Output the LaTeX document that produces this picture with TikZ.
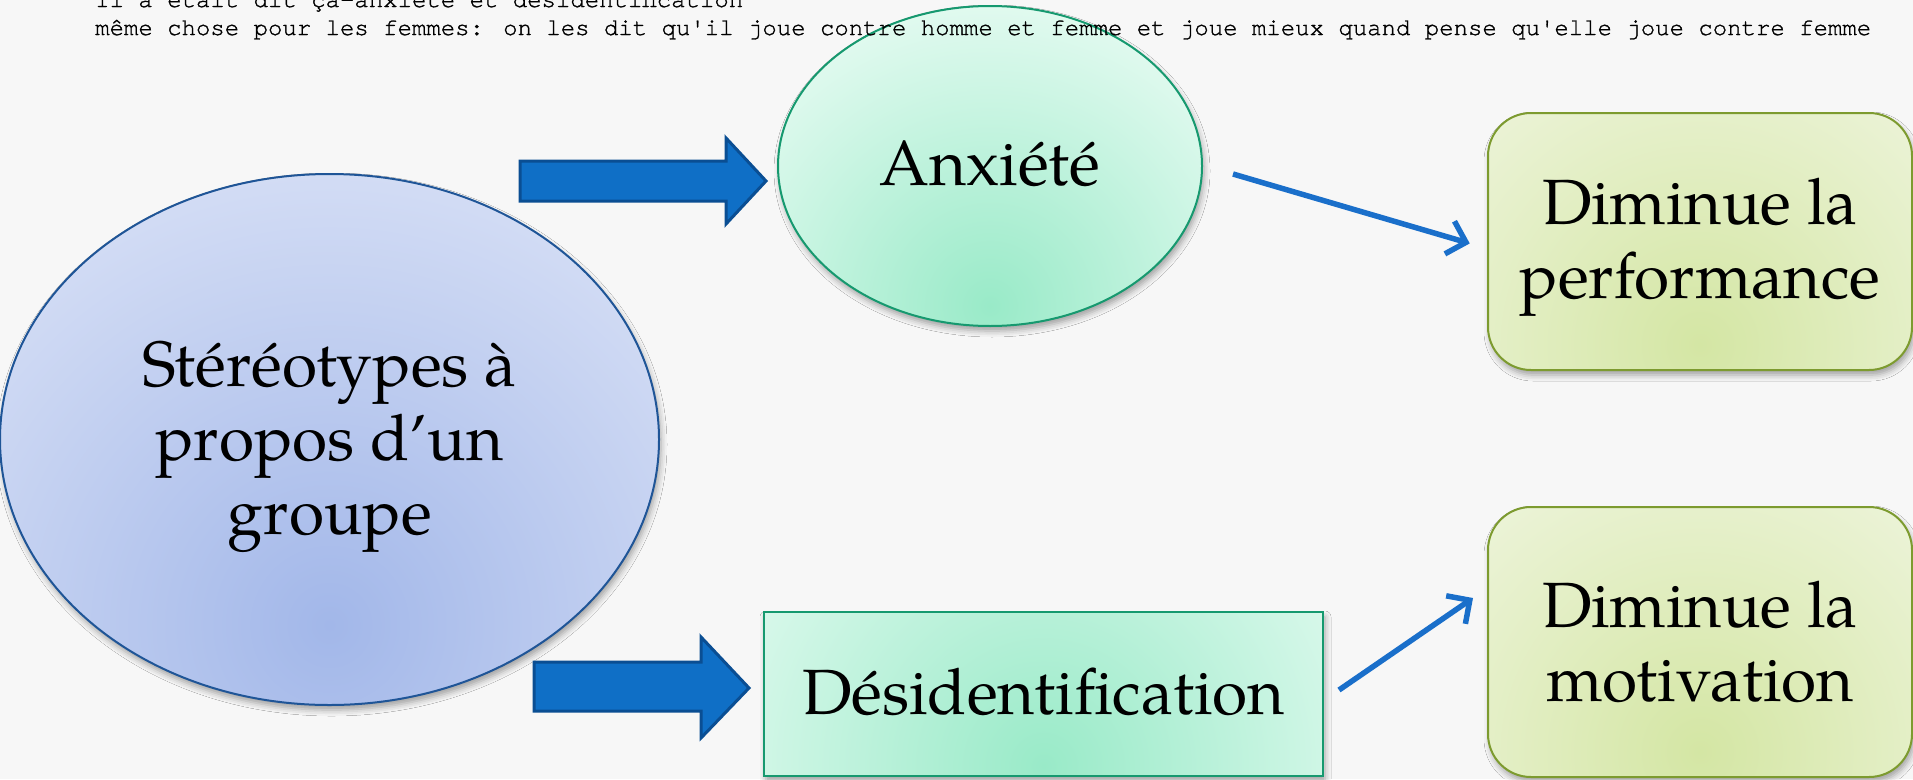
\documentclass[tikz,border=0pt]{standalone}
\usepackage{fontspec}
\setmainfont{TeX Gyre Pagella}
\newfontfamily\monofont[FakeBold=1.2]{TeX Gyre Cursor}
\usetikzlibrary{shadows.blur,arrows.meta,calc,shapes.geometric}
\definecolor{bgcol}{HTML}{F7F7F7}
\definecolor{blueLight}{HTML}{E2E8F8}
\definecolor{blueDark}{HTML}{A2B7E9}
\definecolor{blueEdge}{HTML}{1F5597}
\definecolor{mintLight}{HTML}{EAFCF4}
\definecolor{mintDark}{HTML}{99EAC8}
\definecolor{mintEdge}{HTML}{16996F}
\definecolor{limeLight}{HTML}{F2F7E5}
\definecolor{limeDark}{HTML}{D4E6A4}
\definecolor{limeEdge}{HTML}{7D9B2F}
\definecolor{arrFill}{HTML}{0F6FC6}
\definecolor{arrEdge}{HTML}{0A4E93}
\definecolor{thinArr}{HTML}{1A6FCA}
\tikzset{
  softshadow/.style={blur shadow={shadow xshift=2pt, shadow yshift=-5pt, shadow blur radius=6pt, shadow opacity=35}},
  bigtext/.style={font=\fontsize{64}{74}\selectfont, align=center, inner sep=0pt},
  bigell/.style={ellipse, draw=blueEdge, line width=2pt, fill=blueLight, softshadow,
    path picture={\shade[inner color=blueDark, outer color=blueLight]
      ([yshift=80pt]path picture bounding box.south) circle (600pt);}},
  minteli/.style={ellipse, draw=mintEdge, line width=2pt, fill=mintLight, softshadow,
    path picture={\shade[inner color=mintDark, outer color=mintLight]
      ([yshift=20pt]path picture bounding box.south) circle (340pt);}},
  mintbox/.style={rectangle, draw=mintEdge, line width=2pt, fill=mintLight, softshadow,
    path picture={\shade[inner color=mintDark, outer color=mintLight]
      ([yshift=10pt]path picture bounding box.south) circle (420pt);}},
  limebox/.style={rectangle, rounded corners=43pt, draw=limeEdge, line width=2pt, fill=limeLight, softshadow,
    path picture={\shade[inner color=limeDark, outer color=limeLight]
      ([yshift=25pt]path picture bounding box.south) circle (400pt);}},
  blockarrow/.style={fill=arrFill, draw=arrEdge, line width=3pt, line join=miter},
  thinarrow/.style={draw=thinArr, line width=5.5pt, -{Straight Barb[length=17pt, width=34pt, line width=5.5pt]}},
  monotext/.style={font=\monofont\fontsize{24}{27}\selectfont, anchor=base west, inner sep=0pt}
}
\begin{document}
\begin{tikzpicture}[x=1pt,y=-1pt]
\useasboundingbox (0,0) rectangle (1913,779);
\fill[bgcol] (0,0) rectangle (1913,779);

% main shapes
\node[bigell, minimum width=659pt, minimum height=531pt] (stereo) at (329.5,439.5) {};
\node[minteli, minimum width=424pt, minimum height=320pt] (anx) at (990,166) {};
\node[mintbox, minimum width=559pt, minimum height=164pt] (desid) at (1043.5,694) {};
\node[limebox, minimum width=424pt, minimum height=257pt] (perf) at (1700,241.5) {};
\node[limebox, minimum width=424pt, minimum height=270pt] (motiv) at (1700,642) {};

% texts
\node[bigtext] (stereoT) at ([yshift=-7pt]stereo.center) {Stéréotypes à\\propos d’un\\groupe};
\node[bigtext] (anxT) at ([yshift=2pt]anx.center) {Anxiété};
\node[bigtext] (desidT) at ([yshift=2pt]desid.center) {Désidentification};
\node[bigtext] (perfT) at ([yshift=-6pt]perf.center) {Diminue la\\performance};
\node[bigtext] (motivT) at (motiv.center) {Diminue la\\motivation};

% block arrows
\draw[blockarrow] (520,161) -- (726,161) -- (726,138) -- (766,181) -- (726,224) -- (726,201) -- (520,201) -- cycle;
\draw[blockarrow] (534,662) -- (701,662) -- (701,637) -- (749,688) -- (701,738) -- (701,711) -- (534,711) -- cycle;

% thin arrows
\draw[thinarrow, shorten >=18pt] ([xshift=30pt, yshift=-8pt]anx.east) -- ([yshift=-7pt]perf.west);
\coordinate (motin) at (1473,598);
\draw[thinarrow] ([xshift=15pt, yshift=4pt]desid.east) -- (motin);

% header text
\node[monotext] (line1) at (95,7) {Il a était dit ça-anxiété et désidentification};
\node[monotext] (line2) at (95,35) {même chose pour les femmes: on les dit qu'il joue contre homme et femme et joue mieux quand pense qu'elle joue contre femme};
\end{tikzpicture}
\end{document}
